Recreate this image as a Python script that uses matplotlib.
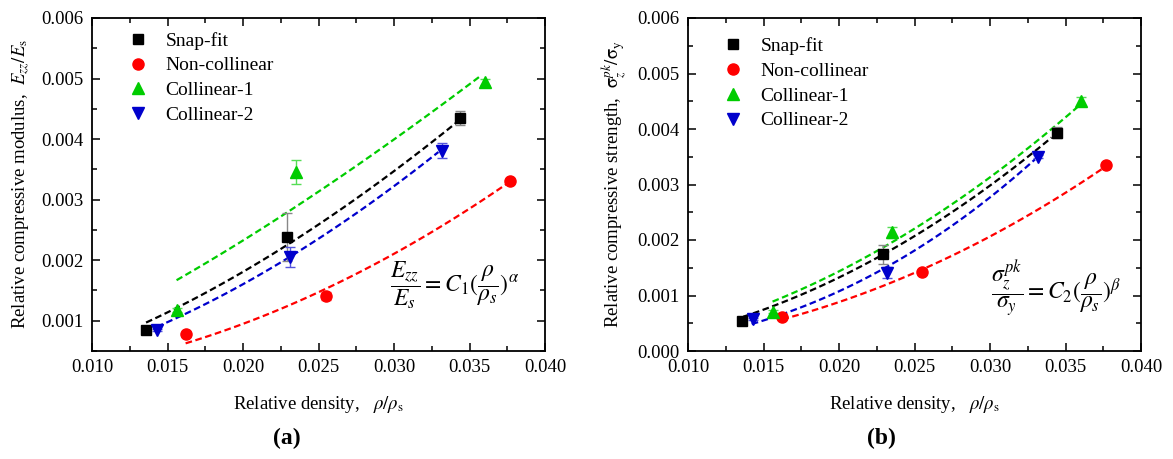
import numpy as np
import matplotlib
matplotlib.use("Agg")
import matplotlib.pyplot as plt
from matplotlib.ticker import MultipleLocator, FormatStrFormatter

plt.rcParams['font.family'] = ['Liberation Serif', 'DejaVu Serif']
plt.rcParams['mathtext.fontset'] = 'stix'

series_names = ["Snap-fit", "Non-collinear", "Collinear-1", "Collinear-2"]
colors = ["#000000", "#ff0000", "#00cc00", "#0000cc"]
err_colors = ["#888888", "#ff6666", "#55dd55", "#5555dd"]
markers = ["s", "o", "^", "v"]

# ---- panel (a): relative compressive modulus ----
a_x = [[0.01358, 0.0229, 0.0344],
       [0.0162, 0.0255, 0.0377],
       [0.0156, 0.0235, 0.0360],
       [0.0143, 0.0231, 0.0332]]
a_y = [[0.00085, 0.00238, 0.00435],
       [0.00078, 0.00141, 0.00330],
       [0.00118, 0.00346, 0.00494],
       [0.00085, 0.00205, 0.00381]]
a_err = [[0.00002, 0.00040, 0.00012],
         [0.00002, 0.00006, 0.00003],
         [0.00003, 0.00020, 0.00005],
         [0.00002, 0.00016, 0.00012]]
# power-law fit  y = C * x**exp, drawn over [start, end]
a_fit_C = [0.979, 2.084, 0.4295, 1.351]
a_fit_exp = [1.609, 1.967, 1.334, 1.722]
a_fit_start = [0.01358, 0.0162, 0.0156, 0.0143]
a_fit_end = [0.0342, 0.03757, 0.03576, 0.03294]

# ---- panel (b): relative compressive strength ----
b_x = [[0.0136, 0.0229, 0.03442],
       [0.0162, 0.0255, 0.0377],
       [0.0156, 0.0235, 0.0360],
       [0.0143, 0.02316, 0.0332]]
b_y = [[0.000546, 0.00174, 0.00393],
       [0.00061, 0.00142, 0.00335],
       [0.00071, 0.00214, 0.00450],
       [0.00057, 0.00141, 0.00350]]
b_err = [[0.00002, 0.00017, 0.00010],
         [0.00002, 0.00003, 0.00003],
         [0.00003, 0.00010, 0.00008],
         [0.00002, 0.00010, 0.00003]]
b_fit_C = [3.312, 3.222, 2.655, 9.82]
b_fit_exp = [2.0, 2.097, 1.923, 2.331]
b_fit_start = [0.01366, 0.01625, 0.0156, 0.01422]
b_fit_end = [0.03408, 0.03762, 0.03585, 0.03298]

fig = plt.figure(figsize=(11.73, 4.59), dpi=100)
W, H = 1173.0, 459.0
axA = fig.add_axes([92 / W, 1 - 351 / H, (545 - 92) / W, (351 - 18) / H])
axB = fig.add_axes([688 / W, 1 - 351 / H, (1141 - 688) / W, (351 - 18) / H])


def draw(ax, xs, ys, errs, C, ex, st, en):
    for i in range(4):
        xx = np.linspace(st[i], en[i], 100)
        ax.plot(xx, C[i] * xx ** ex[i], color=colors[i], lw=1.6,
                linestyle=(0, (3, 1.6)), zorder=2)
    for i in range(4):
        ax.errorbar(xs[i], ys[i], yerr=errs[i], fmt='none', ecolor=err_colors[i],
                    elinewidth=1.0, capsize=3.5, capthick=1.0, zorder=3)
        ax.plot(xs[i], ys[i], linestyle='none', marker=markers[i], color=colors[i],
                markersize=8 if markers[i] != 's' else 7, label=series_names[i],
                zorder=4)
    ax.set_xlim(0.010, 0.040)
    ax.xaxis.set_major_locator(MultipleLocator(0.005))
    ax.xaxis.set_minor_locator(MultipleLocator(0.0025))
    ax.yaxis.set_major_locator(MultipleLocator(0.001))
    ax.yaxis.set_minor_locator(MultipleLocator(0.0005))
    ax.xaxis.set_major_formatter(FormatStrFormatter('%.3f'))
    ax.yaxis.set_major_formatter(FormatStrFormatter('%.3f'))
    ax.tick_params(which='both', direction='in', top=True, right=True, labelsize=13.5,
                   width=1.1)
    ax.tick_params(which='major', length=6, pad=6)
    ax.tick_params(which='minor', length=3.5)
    for s in ax.spines.values():
        s.set_linewidth(1.3)


draw(axA, a_x, a_y, a_err, a_fit_C, a_fit_exp, a_fit_start, a_fit_end)
draw(axB, b_x, b_y, b_err, b_fit_C, b_fit_exp, b_fit_start, b_fit_end)

axA.set_ylim(0.0005, 0.006)
axB.set_ylim(0.0, 0.006)

for ax, anchor in ((axA, (0.04, 1.014)), (axB, (0.038, 0.998))):
    ax.legend(loc='upper left', bbox_to_anchor=anchor, frameon=False, fontsize=14,
              handlelength=1.0, handletextpad=0.9, labelspacing=0.37,
              borderaxespad=0.45, borderpad=0.5)
    ax.set_xlabel(r'Relative density,   $\rho/\rho_\mathrm{s}$', fontsize=13.5, labelpad=13)

axA.set_ylabel(r'Relative compressive modulus,  $E_{zz}/E_\mathrm{s}$', fontsize=13.5,
               labelpad=7)
axB.set_ylabel(r'Relative compressive strength,  $\mathrm{\sigma}_z^{pk}/\mathrm{\sigma}_\mathrm{y}$',
               fontsize=13.5, labelpad=7)

axA.text(0.0340, 0.00159, r'$\dfrac{E_{zz}}{E_s}=C_1(\dfrac{\rho}{\rho_s})^{\alpha}$',
         fontsize=17, ha='center', va='center')
axB.text(0.0344, 0.00114, r'$\dfrac{\sigma_z^{pk}}{\sigma_y}=C_2(\dfrac{\rho}{\rho_s})^{\beta}$',
         fontsize=17, ha='center', va='center')

fig.text(287 / W, 1 - 438 / H, '(a)', fontsize=17, fontweight='bold', ha='center', va='center')
fig.text(881 / W, 1 - 438 / H, '(b)', fontsize=17, fontweight='bold', ha='center', va='center')

fig.savefig('out.png', dpi=100)
